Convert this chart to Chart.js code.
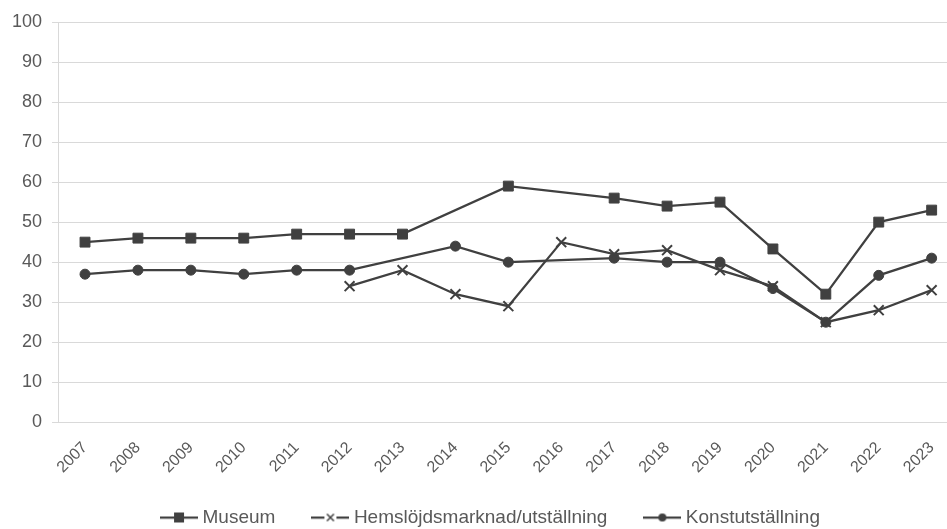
<!DOCTYPE html>
<html>
<head>
<meta charset="utf-8">
<script src="https://cdn.jsdelivr.net/npm/chart.js@4/dist/chart.umd.min.js"></script>
<style>
  html, body { margin: 0; padding: 0; background: #fff; }
  #wrap { width: 947px; height: 529px; }
</style>
</head>
<body>
<div id="wrap"><canvas id="lineChart"></canvas></div>
<script>
const years = [2007, 2008, 2009, 2010, 2011, 2012, 2013, 2014, 2015, 2016, 2017, 2018, 2019, 2020, 2021, 2022, 2023];
const museum = [45, 46, 46, 46, 47, 47, 47, null, 59, null, 56, 54, 55, 43.3, 32, 50, 53];
const hemslojd = [null, null, null, null, null, 34, 38, 32, 29, 45, 42, 43, 38, 34, 25, 28, 33];
const konst = [37, 38, 38, 37, 38, 38, null, 44, 40, null, 41, 40, 40, 33.4, 25, 36.7, 41];
const yTicks = [0, 10, 20, 30, 40, 50, 60, 70, 80, 90, 100];

const lineColor = "#404040";
const textColor = "#595959";
const gridColor = "#d9d9d9";
const fontFamily = "'Liberation Sans', Arial, sans-serif";

const toPoints = (values) => years.map((y, i) => ({ x: y, y: values[i] }));

// little line+marker pictures for the legend
const legendIcon = (kind) => {
  const c = document.createElement("canvas");
  c.width = 38;
  c.height = 16;
  const g = c.getContext("2d");
  g.strokeStyle = lineColor;
  g.fillStyle = lineColor;
  g.lineWidth = 2.25;
  g.beginPath();
  g.moveTo(0, 8);
  g.lineTo(38, 8);
  g.stroke();
  if (kind === "rect") {
    g.fillRect(14, 3, 10, 10);
  } else if (kind === "circle") {
    g.beginPath();
    g.arc(19, 8, 4, 0, Math.PI * 2);
    g.fill();
  } else {
    g.clearRect(13, 2, 12, 12);
    g.lineWidth = 1.5;
    g.beginPath();
    g.moveTo(15.5, 4.5);
    g.lineTo(22.5, 11.5);
    g.moveTo(22.5, 4.5);
    g.lineTo(15.5, 11.5);
    g.stroke();
  }
  return c;
};

const icons = [legendIcon("rect"), legendIcon("cross"), legendIcon("circle")];

// nudge the legend, like the original
const legendShift = {
  id: "legendShift",
  afterUpdate(chart) {
    const lg = chart.legend;
    lg.left += 18;
    lg.right += 18;
    lg.top -= 18;
    lg.bottom -= 18;
  },
};

let ctx = document.getElementById("lineChart");
new Chart(ctx, {
  type: "line",
  data: {
    datasets: [
      {
        label: "Museum",
        data: toPoints(museum),
        borderColor: lineColor,
        backgroundColor: lineColor,
        borderWidth: 2.25,
        pointStyle: "rect",
        pointRadius: 7,
        pointBorderWidth: 1,
        spanGaps: true,
      },
      {
        label: "Hemslöjdsmarknad/utställning",
        data: toPoints(hemslojd),
        borderColor: lineColor,
        backgroundColor: lineColor,
        borderWidth: 2.25,
        pointStyle: "crossRot",
        pointRadius: 7,
        pointBorderWidth: 2,
        spanGaps: true,
      },
      {
        label: "Konstutställning",
        data: toPoints(konst),
        borderColor: lineColor,
        backgroundColor: lineColor,
        borderWidth: 2.25,
        pointStyle: "circle",
        pointRadius: 5,
        pointBorderWidth: 1,
        spanGaps: true,
      },
    ],
  },
  options: {
    responsive: true,
    maintainAspectRatio: false,
    animation: false,
    layout: { autoPadding: false, padding: { left: 2, right: 0, top: 22, bottom: -26 } },
    plugins: {
      tooltip: { enabled: false },
      legend: {
        position: "bottom",
        labels: {
          usePointStyle: true,
          pointStyleWidth: 28,
          padding: 41,
          color: textColor,
          font: { family: fontFamily, size: 19 },
          generateLabels: (chart) =>
            chart.data.datasets.map((ds, i) => ({
              text: ds.label,
              pointStyle: icons[i],
              fillStyle: lineColor,
              strokeStyle: lineColor,
              fontColor: textColor,
              lineWidth: 0,
              datasetIndex: i,
            })),
        },
      },
    },
    scales: {
      x: {
        type: "linear",
        min: 2006.49,
        max: 2023.29,
        grid: { display: false },
        border: { display: false },
        afterFit: (axis) => {
          // the plot runs right to the edge of the picture
          axis.paddingLeft = 0;
          axis.paddingRight = 0;
        },
        ticks: {
          stepSize: 1,
          includeBounds: false,
          autoSkip: false,
          maxRotation: 45,
          minRotation: 45,
          padding: 8,
          color: textColor,
          font: { family: fontFamily, size: 16 },
          callback: (v) => (years.includes(v) ? String(v) : ""),
        },
      },
      y: {
        min: 0,
        max: 100,
        afterBuildTicks: (axis) => {
          axis.ticks = yTicks.map((v) => ({ value: v }));
        },
        grid: { color: gridColor, lineWidth: 1, tickLength: 6 },
        border: { color: gridColor, width: 1 },
        ticks: {
          padding: 10,
          color: textColor,
          font: { family: fontFamily, size: 18 },
        },
      },
    },
  },
  plugins: [legendShift],
});
</script>
</body>
</html>
